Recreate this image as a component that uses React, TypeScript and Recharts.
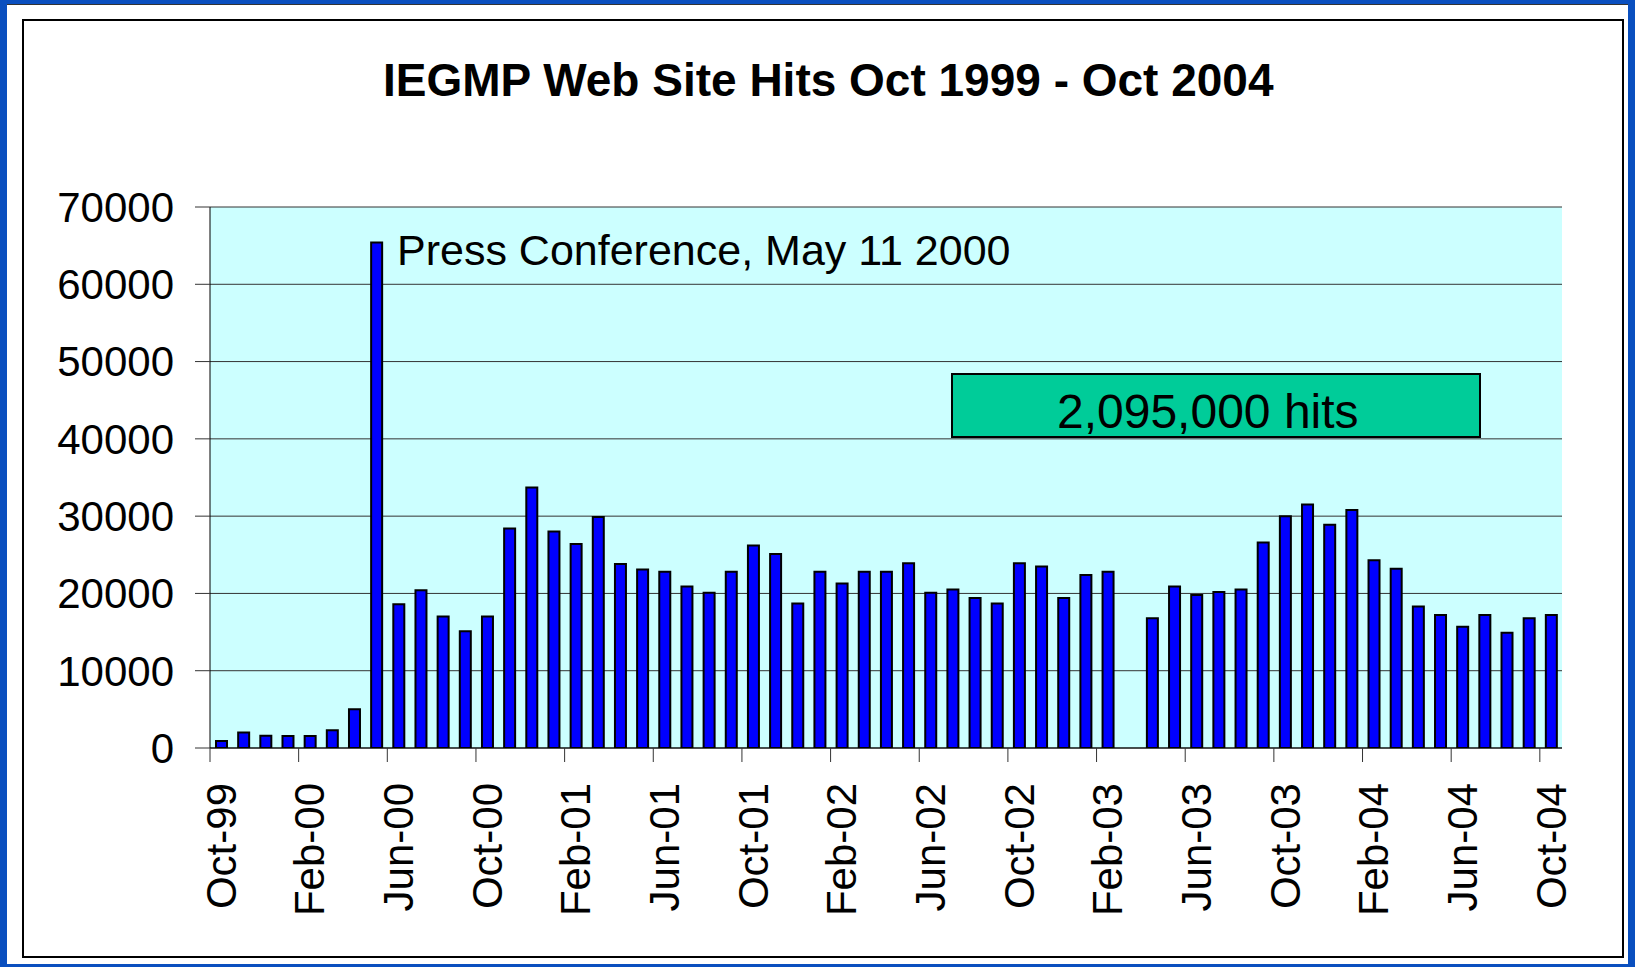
import React from 'react';
import { BarChart, Bar, XAxis, YAxis, CartesianGrid } from 'recharts';

// monthly hits, Oct 1999 .. Oct 2004 (Mar-03 missing)
const MONTHS = [
  'Oct-99', 'Nov-99', 'Dec-99', 'Jan-00', 'Feb-00', 'Mar-00', 'Apr-00', 'May-00', 'Jun-00', 'Jul-00', 'Aug-00', 'Sep-00',
  'Oct-00', 'Nov-00', 'Dec-00', 'Jan-01', 'Feb-01', 'Mar-01', 'Apr-01', 'May-01', 'Jun-01', 'Jul-01', 'Aug-01', 'Sep-01',
  'Oct-01', 'Nov-01', 'Dec-01', 'Jan-02', 'Feb-02', 'Mar-02', 'Apr-02', 'May-02', 'Jun-02', 'Jul-02', 'Aug-02', 'Sep-02',
  'Oct-02', 'Nov-02', 'Dec-02', 'Jan-03', 'Feb-03', 'Mar-03', 'Apr-03', 'May-03', 'Jun-03', 'Jul-03', 'Aug-03', 'Sep-03',
  'Oct-03', 'Nov-03', 'Dec-03', 'Jan-04', 'Feb-04', 'Mar-04', 'Apr-04', 'May-04', 'Jun-04', 'Jul-04', 'Aug-04', 'Sep-04',
  'Oct-04',
];

const HITS: (number | null)[] = [
  900, 2000, 1600, 1550, 1550, 2300, 5000, 65400, 18600, 20400, 17000, 15100,
  17000, 28400, 33700, 28000, 26400, 29900, 23800, 23100, 22800, 20900, 20100, 22800,
  26200, 25100, 18700, 22800, 21300, 22800, 22800, 23900, 20100, 20500, 19400, 18700,
  23900, 23500, 19400, 22400, 22800, null, 16800, 20900, 19800, 20200, 20500, 26600,
  30000, 31500, 28900, 30800, 24300, 23200, 18300, 17200, 15700, 17200, 14900, 16800,
  17200,
];

const Y_TICKS = [0, 10000, 20000, 30000, 40000, 50000, 60000, 70000];

const TITLE = 'IEGMP Web Site Hits Oct 1999 - Oct 2004';
const NOTE = 'Press Conference, May 11 2000';
const TOTAL = '2,095,000 hits';

const FONT = '"Liberation Sans", Arial, sans-serif';
const W = 1635;
const H = 967;
const PLOT_W = 1352;
const BAND = PLOT_W / MONTHS.length;

const data = MONTHS.map((m, i) => ({ month: m, hits: HITS[i] }));

// labels sit under the month, tick marks on the month's left edge
const MonthTick = (props: any) => {
  const { x, y, payload } = props;
  const lx = x - BAND / 2;
  return (
    <g>
      <line x1={lx} y1={y} x2={lx} y2={y + 14} stroke="#333" strokeWidth={1} />
      <text
        x={x}
        y={y + 35}
        transform={`rotate(-90, ${x}, ${y + 35})`}
        textAnchor="end"
        dy="0.35em"
        fontSize={42}
        fontFamily={FONT}
        fill="#000"
      >
        {payload.value}
      </text>
    </g>
  );
};

export default function App() {
  return (
    <div style={{ position: 'absolute', left: 0, top: 0, width: W, height: H, background: '#0A4FBF' }}>
      <div style={{ position: 'absolute', left: 7, top: 4, width: 1621, height: 959, background: '#fff', borderTop: '1px solid #333' }} />
      <div
        style={{
          position: 'absolute', left: 22, top: 19, width: 1602, height: 939,
          border: '2px solid #000', boxSizing: 'border-box',
        }}
      />
      <div style={{ position: 'absolute', left: 0, top: 0 }}>
        <BarChart
          width={W}
          height={H}
          data={data}
          margin={{ top: 207, right: 73, bottom: 39, left: 20 }}
        >
          <CartesianGrid vertical={false} stroke="#333" fill="#CCFFFF" fillOpacity={1} />
          <XAxis
            dataKey="month"
            interval={3}
            height={180}
            tickLine={false}
            tickSize={0}
            tickMargin={0}
            axisLine={{ stroke: '#000', strokeWidth: 1 }}
            tick={<MonthTick />}
          />
          <YAxis
            domain={[0, 70000]}
            ticks={Y_TICKS}
            width={190}
            tickSize={15}
            tickMargin={21}
            axisLine={{ stroke: '#000', strokeWidth: 1 }}
            tickLine={{ stroke: '#333' }}
            tick={{ fontSize: 42, fontFamily: FONT, fill: '#000' }}
            allowDataOverflow
          />
          <Bar
            dataKey="hits"
            fill="#0000FF"
            stroke="#000"
            strokeWidth={2}
            barSize={11}
            isAnimationActive={false}
          />
        </BarChart>
      </div>
      <div
        style={{
          position: 'absolute', left: 383, top: 57, fontFamily: FONT, fontWeight: 'bold',
          fontSize: 46, lineHeight: 1, whiteSpace: 'nowrap', color: '#000',
        }}
      >
        {TITLE}
      </div>
      <div
        style={{
          position: 'absolute', left: 397, top: 229, fontFamily: FONT,
          fontSize: 43, lineHeight: 1, whiteSpace: 'nowrap', color: '#000',
        }}
      >
        {NOTE}
      </div>
      <div
        style={{
          position: 'absolute', left: 951, top: 373, width: 530, height: 65,
          background: '#00CC99', border: '2px solid #000', boxSizing: 'border-box',
        }}
      />
      <div
        style={{
          position: 'absolute', left: 1057, top: 388, fontFamily: FONT,
          fontSize: 48, lineHeight: 1, whiteSpace: 'nowrap', color: '#000',
        }}
      >
        {TOTAL}
      </div>
    </div>
  );
}
